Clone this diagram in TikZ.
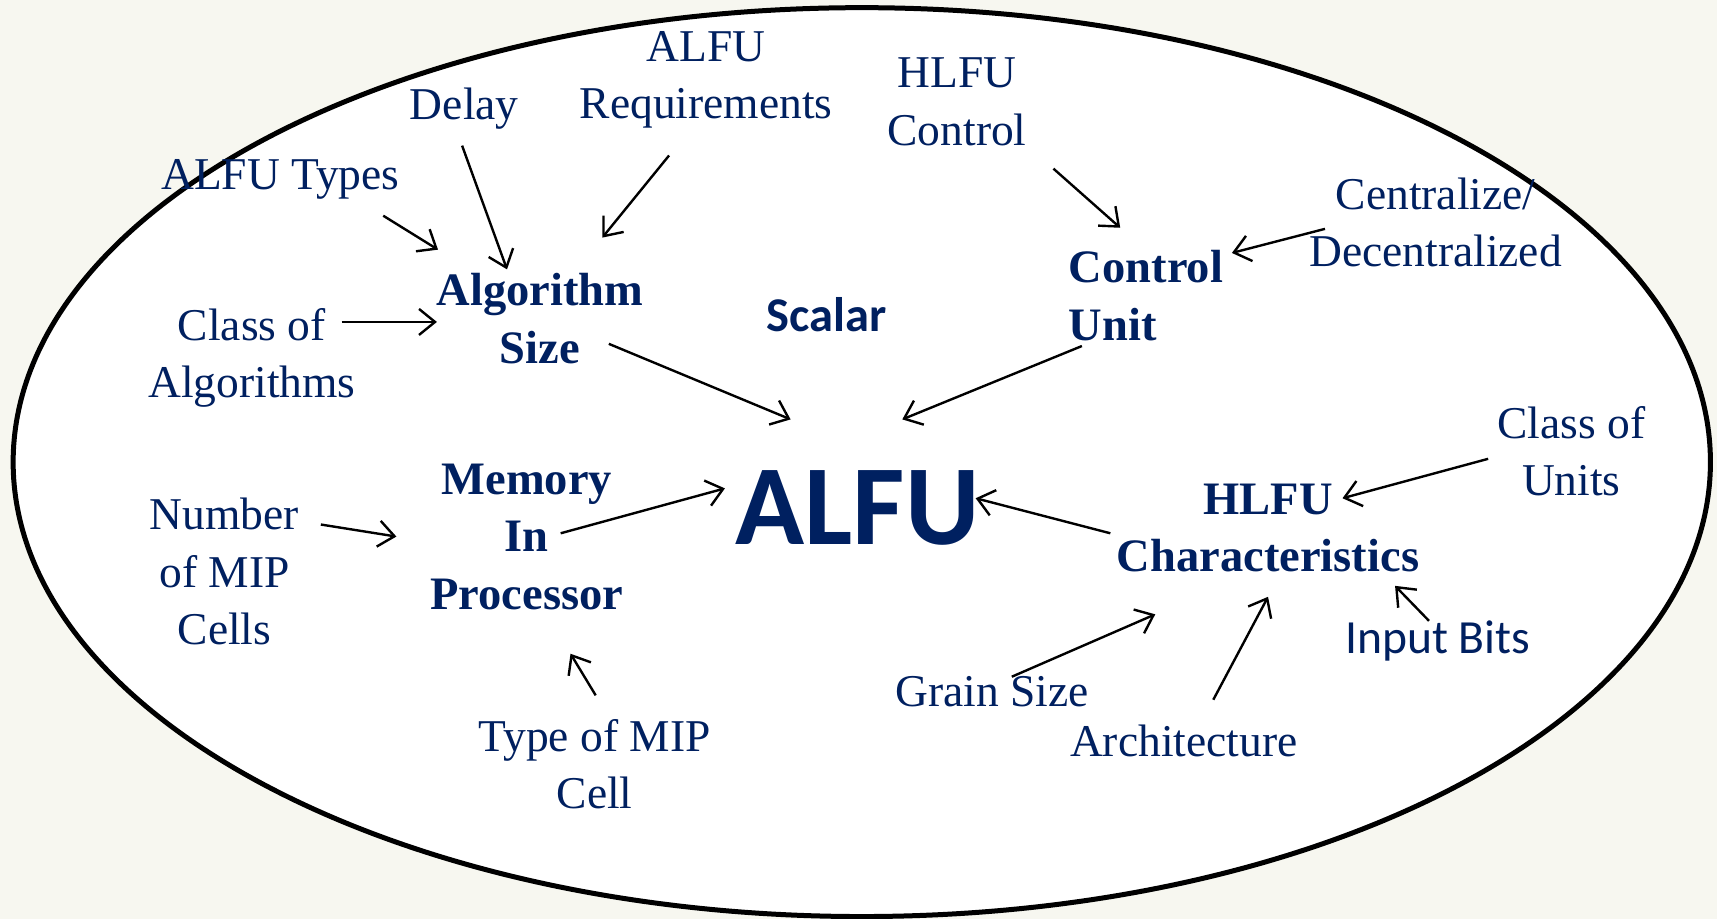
\documentclass[tikz,border=0pt]{standalone}
\usepackage{fontspec}
\setmainfont{Liberation Serif}
\newfontfamily\calib{Carlito}
\usetikzlibrary{arrows.meta}
\definecolor{navy}{RGB}{0,32,96}
\definecolor{bgc}{RGB}{247,247,240}
\tikzset{
  lbl/.style={font=\fontsize{45.5}{57.5}\selectfont, text=navy, inner sep=0pt, align=center},
  blbl/.style={font=\fontsize{46.5}{57.5}\selectfont\bfseries, text=navy, inner sep=0pt, align=center},
  slbl/.style={text=navy, inner sep=0pt},
  arr/.style={-{Straight Barb[length=16pt,width=26pt]}, line width=2.4pt, black},
}
\begin{document}
\begin{tikzpicture}[x={(1.0951pt,0)}, y={(0,-1.0951pt)}]
\useasboundingbox (0,0) rectangle (1568,839);
\fill[bgc] (0,0) rectangle (1568,839);
\draw[line width=5pt, fill=white] (787,422) ellipse [x radius=775, y radius=415];

% nodes
\node[lbl] (types) at (256,164) {ALFU Types};
\node[lbl] (delay) at (424,99) {Delay};
\node[lbl] (req) at (645,73) {ALFU\\Requirements};
\node[lbl] (hctrl) at (874,93) {HLFU\\Control};
\node[lbl] (cent) at (1311,203) {Centralize/\\Decentralized};
\node[lbl] (classalg) at (230,327) {Class of\\Algorithms};
\node[blbl] (algsize) at (493,291) {Algorithm\\Size};
\node[slbl, font=\calib\bfseries\fontsize{48.5}{58}\selectfont] (scalar) at (755,287) {Scalar};
\node[blbl, align=left, anchor=west] (cu) at (976,270) {Control\\Unit};
\node[slbl, font=\calib\bfseries\fontsize{114}{120}\selectfont] (alfu) at (783,464) {ALFU};
\node[blbl] (mip) at (481,490) {Memory\\In\\Processor};
\node[lbl] (nmip) at (205,522) {Number\\of MIP\\Cells};
\node[lbl] (tmip) at (543,698) {Type of MIP\\Cell};
\node[blbl] (hchar) at (1158,482) {HLFU\\Characteristics};
\node[lbl] (cunits) at (1435,412) {Class of\\Units};
\node[slbl, font=\calib\fontsize{47.6}{58}\selectfont] (inbits) at (1313,585) {Input Bits};
\node[lbl] (grain) at (906,632) {Grain Size};
\node[lbl] (arch) at (1081,677) {Architecture};

% connector end points
\coordinate (types-o) at (350,197);  \coordinate (algsize-i1) at (400,228);
\coordinate (delay-o) at (422,133);  \coordinate (algsize-i2) at (463,246);
\coordinate (req-o) at (611,142);    \coordinate (algsize-i3) at (550,217);
\coordinate (hctrl-o) at (962,154);  \coordinate (cu-i1) at (1023,208);
\coordinate (cent-o) at (1210,209);  \coordinate (cu-i2) at (1125,231);
\coordinate (classalg-o) at (312,294); \coordinate (algsize-i4) at (399,294);
\coordinate (algsize-o) at (556,314); \coordinate (alfu-i1) at (722,383);
\coordinate (cu-o) at (988,316);     \coordinate (alfu-i2) at (824,383);
\coordinate (mip-o) at (512,487);    \coordinate (alfu-i3) at (662,446);
\coordinate (nmip-o) at (293,479);   \coordinate (mip-i1) at (362,490);
\coordinate (tmip-o) at (544,635);   \coordinate (mip-i2) at (521,597);
\coordinate (hchar-o) at (1014,487); \coordinate (alfu-i4) at (891,455);
\coordinate (cunits-o) at (1359,419); \coordinate (hchar-i1) at (1226,455);
\coordinate (inbits-o) at (1305,567); \coordinate (hchar-i2) at (1274,535);
\coordinate (grain-o) at (924,618);  \coordinate (hchar-i3) at (1055,561);
\coordinate (arch-o) at (1108,639);  \coordinate (hchar-i4) at (1158,545);

\draw[arr] (types-o) -- (algsize-i1);
\draw[arr] (delay-o) -- (algsize-i2);
\draw[arr] (req-o) -- (algsize-i3);
\draw[arr] (hctrl-o) -- (cu-i1);
\draw[arr] (cent-o) -- (cu-i2);
\draw[arr] (classalg-o) -- (algsize-i4);
\draw[arr] (algsize-o) -- (alfu-i1);
\draw[arr] (cu-o) -- (alfu-i2);
\draw[arr] (mip-o) -- (alfu-i3);
\draw[arr] (nmip-o) -- (mip-i1);
\draw[arr] (tmip-o) -- (mip-i2);
\draw[arr] (hchar-o) -- (alfu-i4);
\draw[arr] (cunits-o) -- (hchar-i1);
\draw[arr] (inbits-o) -- (hchar-i2);
\draw[arr] (grain-o) -- (hchar-i3);
\draw[arr] (arch-o) -- (hchar-i4);
\end{tikzpicture}
\end{document}
